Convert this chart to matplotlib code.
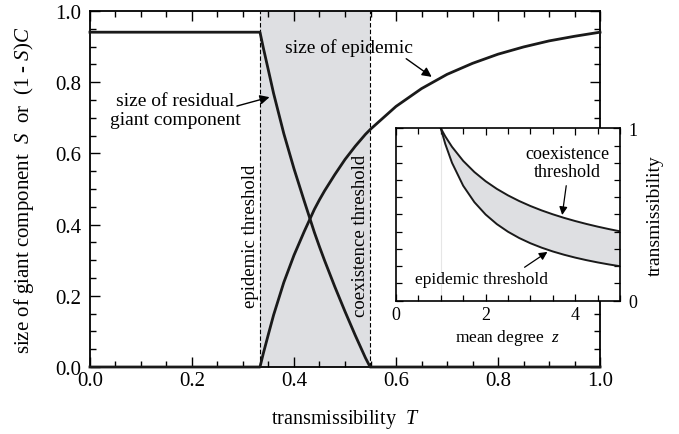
import matplotlib
matplotlib.use("Agg")
import matplotlib.pyplot as plt
from matplotlib.ticker import MultipleLocator, FixedLocator

plt.rcParams['font.family'] = ['Liberation Serif', 'DejaVu Serif']
plt.rcParams['mathtext.fontset'] = 'custom'
plt.rcParams['mathtext.rm'] = 'Liberation Serif'
plt.rcParams['mathtext.it'] = 'Liberation Serif:italic'

# ---------------- data (main panel) ----------------
T_epidemic_threshold = 0.3333
T_coexistence_threshold = 0.5493

T_vals = [0.0, 0.3333, 0.34, 0.35, 0.36, 0.38, 0.40, 0.42, 0.44, 0.45, 0.46, 0.48,
          0.50, 0.52, 0.54, 0.5493, 0.55, 0.60, 0.65, 0.70, 0.75, 0.80, 0.85,
          0.90, 0.95, 1.0]
epidemic_size = [0.0, 0.0, 0.039, 0.093, 0.146, 0.2375, 0.314, 0.3805, 0.443, 0.470,
                 0.495, 0.5405, 0.583, 0.620, 0.6535, 0.667, 0.668, 0.732, 0.782,
                 0.822, 0.853, 0.8787, 0.899, 0.916, 0.929, 0.9405]
residual_size = [0.9405, 0.9405, 0.8956, 0.8324, 0.7686, 0.6558, 0.557, 0.4665, 0.378,
                 0.3376, 0.299, 0.2256, 0.156, 0.0893, 0.026, 0.0, 0.0, 0.0, 0.0,
                 0.0, 0.0, 0.0, 0.0, 0.0, 0.0, 0.0]

# ---------------- data (inset) ----------------
z_vals = [1.0, 1.1, 1.25, 1.5, 1.75, 2.0, 2.25, 2.5, 2.75, 3.0, 3.25, 3.5, 3.75,
          4.0, 4.25, 4.5, 4.75, 5.0]
inset_epidemic = [1.0, 0.9091, 0.8, 0.6667, 0.5714, 0.5, 0.4444, 0.4, 0.3636, 0.3333,
                  0.3077, 0.2857, 0.2667, 0.25, 0.2353, 0.2222, 0.2105, 0.2]
inset_coexist = [1.0, 0.9531, 0.8926, 0.8109, 0.7462, 0.6931, 0.6487, 0.6109, 0.5781,
                 0.5493, 0.5238, 0.5011, 0.4806, 0.4621, 0.4452, 0.4297, 0.4155, 0.4024]

main_xticks = [0.0, 0.2, 0.4, 0.6, 0.8, 1.0]
main_yticks = [0.0, 0.2, 0.4, 0.6, 0.8, 1.0]
inset_xticks = [0, 2, 4]
inset_yticks = [0, 1]

shade = '#dedfe2'

fig = plt.figure(figsize=(6.79, 4.35), dpi=100)
ax = fig.add_axes([0.1325, 0.154, 0.7512, 0.8184])

ax.axvspan(T_epidemic_threshold, T_coexistence_threshold, color=shade, lw=0, zorder=0)
ax.axvline(T_epidemic_threshold, color='black', lw=0.8, ls=(0, (4, 2)), zorder=1)
ax.axvline(T_coexistence_threshold, color='black', lw=0.8, ls=(0, (4, 2)), zorder=1)
ax.plot(T_vals, epidemic_size, color='#1a1a1a', lw=2.0, zorder=3, clip_on=False,
        solid_joinstyle='round')
ax.plot(T_vals, residual_size, color='#1a1a1a', lw=2.0, zorder=3, clip_on=False,
        solid_joinstyle='round')

ax.set_xlim(0, 1)
ax.set_ylim(0, 1)
ax.set_xticks(main_xticks)
ax.set_yticks(main_yticks)
ax.set_xticklabels([f"{v:.1f}" for v in main_xticks])
ax.set_yticklabels([f"{v:.1f}" for v in main_yticks])
ax.xaxis.set_minor_locator(MultipleLocator(0.05))
ax.yaxis.set_minor_locator(MultipleLocator(0.05))
ax.tick_params(which='both', direction='in', top=True, right=True, labelsize=15,
               width=1.0, colors='black')
ax.tick_params(which='major', length=7)
ax.tick_params(which='minor', length=4)
ax.tick_params(axis='x', pad=3)
ax.tick_params(axis='y', pad=6)
for s in ax.spines.values():
    s.set_linewidth(1.3)

ax.set_xlabel("transmissibility  $T$", fontsize=14.5, labelpad=12)
ax.set_ylabel("size of giant component  $S$  or  (1 - $S$)$C$", fontsize=15, labelpad=14)

arrow = dict(arrowstyle='-|>', color='black', lw=1.0, mutation_scale=14,
             shrinkA=0, shrinkB=0)
ax.text(0.508, 0.900, "size of epidemic", fontsize=14, ha='center', va='center')
ax.annotate("", xy=(0.670, 0.815), xytext=(0.620, 0.866), arrowprops=arrow)
ax.text(0.167, 0.722, "size of residual\ngiant component", fontsize=14,
        ha='center', va='center', linespacing=1.2)
ax.annotate("", xy=(0.352, 0.758), xytext=(0.288, 0.733), arrowprops=arrow)
ax.text(0.3145, 0.37, "epidemic threshold", rotation=90, fontsize=13.5,
        ha='center', va='center')
ax.text(0.531, 0.37, "coexistence threshold", rotation=90, fontsize=13.5,
        ha='center', va='center')

# ---------------- inset ----------------
ax2 = fig.add_axes([0.5832, 0.3064, 0.3299, 0.3964])
ax2.set_facecolor('white')
ax2.axvline(1.0, color='#e6e6e6', lw=0.8, zorder=0)
ax2.fill_between(z_vals, inset_epidemic, inset_coexist, color=shade, lw=0, zorder=1)
ax2.plot(z_vals, inset_epidemic, color='#1a1a1a', lw=1.4, zorder=2)
ax2.plot(z_vals, inset_coexist, color='#1a1a1a', lw=1.4, zorder=2)
ax2.set_xlim(0, 5)
ax2.set_ylim(0, 1)
ax2.xaxis.set_major_locator(FixedLocator(inset_xticks))
ax2.xaxis.set_minor_locator(MultipleLocator(0.5))
ax2.yaxis.set_major_locator(FixedLocator(inset_yticks))
ax2.yaxis.set_minor_locator(MultipleLocator(0.1))
ax2.set_xticklabels([str(v) for v in inset_xticks])
ax2.set_yticklabels([str(v) for v in inset_yticks])
ax2.yaxis.tick_right()
ax2.yaxis.set_label_position('right')
ax2.tick_params(which='both', direction='in', top=True, left=True, right=True,
                labelleft=False, labelright=True, labelsize=13, width=0.9)
ax2.tick_params(which='major', length=5)
ax2.tick_params(which='minor', length=4)
ax2.tick_params(axis='y', pad=6)
for s in ax2.spines.values():
    s.set_linewidth(1.2)
ax2.set_xlabel("mean degree  $z$", fontsize=12.5, labelpad=3)
ax2.set_ylabel("transmissibility", fontsize=14, labelpad=7)

arrow2 = dict(arrowstyle='-|>', color='black', lw=0.9, mutation_scale=12,
              shrinkA=0, shrinkB=0)
ax2.text(3.82, 0.80, "coexistence\nthreshold", fontsize=13, ha='center', va='center',
         linespacing=1.05)
ax2.annotate("", xy=(3.71, 0.497), xytext=(3.80, 0.667), arrowprops=arrow2)
ax2.text(1.90, 0.126, "epidemic threshold", fontsize=12.5, ha='center', va='center')
ax2.annotate("", xy=(3.38, 0.283), xytext=(2.87, 0.194), arrowprops=arrow2)

fig.savefig("out.png", dpi=100)
